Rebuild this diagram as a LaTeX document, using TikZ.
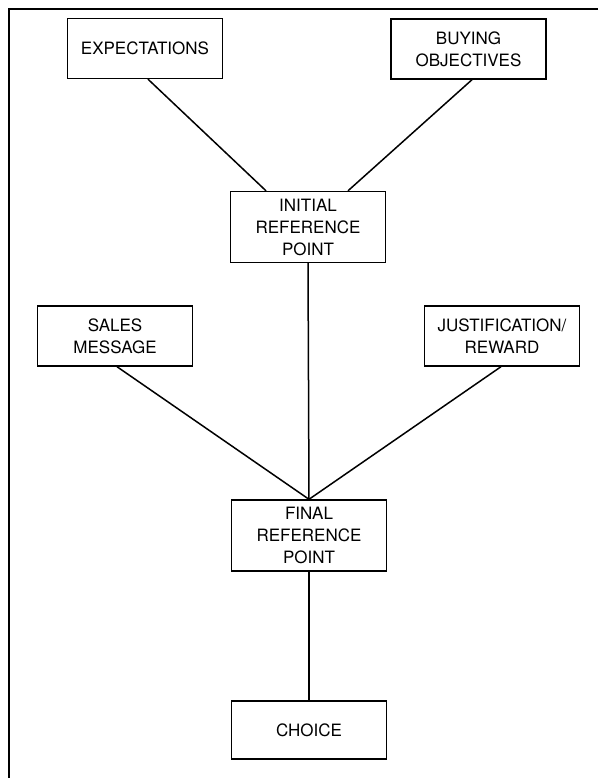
\documentclass[tikz,border=0pt]{standalone}
\usepackage{fontspec}
\setmainfont{TeX Gyre Heros}
\usepackage{tikz}

\begin{document}
\begin{tikzpicture}[x=1pt,y=-1pt,
	boite/.style={draw,line width=1.4pt,align=center,minimum width=155pt,minimum height=60pt,inner sep=0pt,font=\fontsize{17}{22}\selectfont},
	lien/.style={line width=1.5pt}]
		\useasboundingbox (0,0) rectangle (598,778);
		\draw[line width=2pt] (598,9) -- (9,9) -- (9,778);
		\node[boite] (expect) at (145,48.5) {EXPECTATIONS};
		\node[boite] (buying) at (468.5,49) {BUYING\\OBJECTIVES};
		\node[boite,minimum height=71pt] (init) at (308,227) {INITIAL\\REFERENCE\\POINT};
		\node[boite] (sales) at (115,336) {SALES\\MESSAGE};
		\node[boite] (justif) at (502,336) {JUSTIFICATION/\\REWARD};
		\node[boite,minimum height=71pt] (final) at (309,535.5) {FINAL\\REFERENCE\\POINT};
		\node[boite,minimum height=58pt] (choice) at (309,730) {CHOICE};
		\draw[lien] ([xshift=3pt]expect.south) -- ([xshift=-42pt]init.north);
		\draw[lien] ([xshift=3.5pt]buying.south) -- ([xshift=40pt]init.north);
		\draw[lien] (init.south) -- (final.north);
		\draw[lien] ([xshift=2pt]sales.south) -- (final.north);
		\draw[lien] ([xshift=-1pt]justif.south) -- (final.north);
		\draw[lien] (final.south) -- (choice.north);
\end{tikzpicture}
\end{document}
